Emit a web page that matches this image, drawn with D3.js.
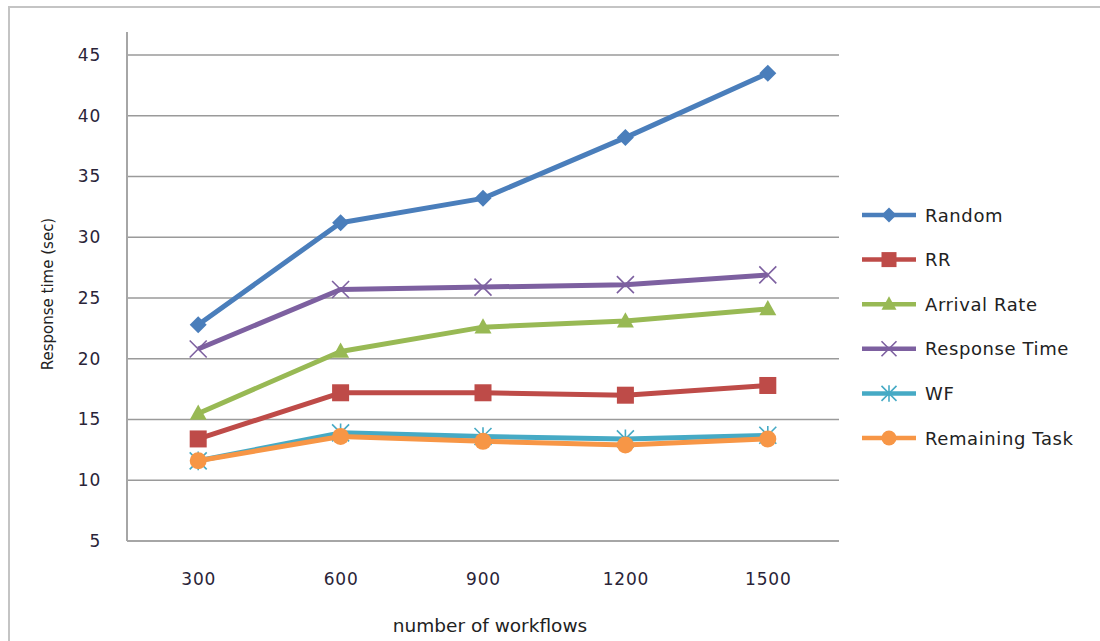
<!DOCTYPE html>
<html>
<head>
<meta charset="utf-8">
<script src="https://cdn.jsdelivr.net/npm/d3@7"></script>
<style>
  html, body { margin: 0; padding: 0; background: #fff; }
  svg { display: block; }
  text { font-family: "DejaVu Sans", sans-serif; }
</style>
</head>
<body>
<svg id="chart" width="1100" height="641"></svg>
<script>
// Workflow counts on the x axis
const categories = ["300", "600", "900", "1200", "1500"];
// Response time (sec) per scheduling policy
const randomValues        = [22.8, 31.2, 33.2, 38.2, 43.5];
const rrValues            = [13.4, 17.2, 17.2, 17.0, 17.8];
const arrivalRateValues   = [15.5, 20.6, 22.6, 23.1, 24.1];
const responseTimeValues  = [20.8, 25.7, 25.9, 26.1, 26.9];
const wfValues            = [11.6, 13.9, 13.6, 13.4, 13.7];
const remainingTaskValues = [11.6, 13.6, 13.2, 12.9, 13.4];
const seriesNames  = ["Random", "RR", "Arrival Rate", "Response Time", "WF", "Remaining Task"];
const yTicks = [5, 10, 15, 20, 25, 30, 35, 40, 45];

const series = [
  { name: seriesNames[0], values: randomValues,        color: "#4a7ebb", marker: "diamond" },
  { name: seriesNames[1], values: rrValues,            color: "#be4b48", marker: "square" },
  { name: seriesNames[2], values: arrivalRateValues,   color: "#98b954", marker: "triangle" },
  { name: seriesNames[3], values: responseTimeValues,  color: "#7d60a0", marker: "cross" },
  { name: seriesNames[4], values: wfValues,            color: "#46aac5", marker: "star" },
  { name: seriesNames[5], values: remainingTaskValues, color: "#f79646", marker: "circle" }
];

const svg = d3.select("#chart");

// outer chart frame
svg.append("rect")
  .attr("x", 9).attr("y", 7).attr("width", 1100).attr("height", 660)
  .attr("fill", "#fff").attr("stroke", "#c4c4c4").attr("stroke-width", 2);

const plot = { left: 127, right: 839, top: 55, bottom: 541 };

const x = d3.scalePoint().domain(categories).range([plot.left, plot.right]).padding(0.5);
const y = d3.scaleLinear().domain([5, 45]).range([plot.bottom, plot.top]);

// horizontal gridlines
svg.append("g")
  .selectAll("line")
  .data(yTicks.filter(t => t > 5))
  .join("line")
  .attr("x1", plot.left).attr("x2", plot.right)
  .attr("y1", d => y(d)).attr("y2", d => y(d))
  .attr("stroke", "#9a9a9a").attr("stroke-width", 1.5);

// y axis
const yAxis = svg.append("g")
  .attr("transform", `translate(${plot.left},0)`)
  .call(d3.axisLeft(y).tickValues(yTicks).tickSize(0).tickPadding(26));
yAxis.select(".domain").remove();
yAxis.selectAll("text")
  .attr("font-size", 17).attr("fill", "#2a2438")
  .attr("letter-spacing", 0.8)
  .attr("font-family", "'DejaVu Sans', sans-serif");
svg.append("line")
  .attr("x1", plot.left).attr("x2", plot.left)
  .attr("y1", 32).attr("y2", plot.bottom)
  .attr("stroke", "#a6a6a6").attr("stroke-width", 2);

// x axis
const xAxis = svg.append("g")
  .attr("transform", `translate(0,${plot.bottom})`)
  .call(d3.axisBottom(x).tickSize(0).tickPadding(32));
xAxis.select(".domain").remove();
xAxis.selectAll("text")
  .attr("font-size", 17).attr("fill", "#2a2438")
  .attr("letter-spacing", 0.8)
  .attr("font-family", "'DejaVu Sans', sans-serif");
svg.append("line")
  .attr("x1", plot.left).attr("x2", plot.right)
  .attr("y1", plot.bottom).attr("y2", plot.bottom)
  .attr("stroke", "#a6a6a6").attr("stroke-width", 2);

// axis titles
svg.append("text")
  .attr("x", 490).attr("y", 632)
  .attr("text-anchor", "middle")
  .attr("font-size", 18.5).attr("fill", "#222")
  .text("number of workflows");
svg.append("text")
  .attr("transform", "translate(53,294) rotate(-90)")
  .attr("text-anchor", "middle")
  .attr("font-size", 15).attr("fill", "#222")
  .text("Response time (sec)");

// marker drawing
function drawMarker(g, type, color, s) {
  if (type === "diamond") {
    g.append("path").attr("d", `M0,${-s}L${s},0L0,${s}L${-s},0Z`).attr("fill", color);
  } else if (type === "square") {
    g.append("rect").attr("x", -s).attr("y", -s)
      .attr("width", s * 2).attr("height", s * 2).attr("fill", color);
  } else if (type === "triangle") {
    g.append("path").attr("d", `M0,${-s * 1.05}L${s},${s * 0.75}L${-s},${s * 0.75}Z`).attr("fill", color);
  } else if (type === "cross") {
    g.append("path").attr("d", `M${-s},${-s}L${s},${s}M${s},${-s}L${-s},${s}`)
      .attr("stroke", color).attr("stroke-width", 1.6).attr("fill", "none");
  } else if (type === "star") {
    g.append("path")
      .attr("d", `M${-s},${-s}L${s},${s}M${s},${-s}L${-s},${s}M0,${-s * 1.1}L0,${s * 1.1}`)
      .attr("stroke", color).attr("stroke-width", 1.6).attr("fill", "none");
  } else if (type === "circle") {
    g.append("circle").attr("r", s).attr("fill", color);
  }
}

const line = d3.line()
  .x((d, i) => x(categories[i]))
  .y(d => y(d));

const seriesG = svg.append("g");
series.forEach(sr => {
  const g = seriesG.append("g");
  g.append("path")
    .attr("d", line(sr.values))
    .attr("fill", "none")
    .attr("stroke", sr.color)
    .attr("stroke-width", 5)
    .attr("stroke-linejoin", "round");
  sr.values.forEach((v, i) => {
    const m = g.append("g").attr("transform", `translate(${x(categories[i])},${y(v)})`);
    drawMarker(m, sr.marker, sr.color, 8.5);
  });
});

// legend
const legend = svg.append("g");
series.forEach((sr, i) => {
  const ly = 215 + i * 44.6;
  const g = legend.append("g").attr("transform", `translate(0,${ly})`);
  g.append("line")
    .attr("x1", 862).attr("x2", 916).attr("y1", 0).attr("y2", 0)
    .attr("stroke", sr.color).attr("stroke-width", 4.5);
  const m = g.append("g").attr("transform", "translate(889,0)");
  drawMarker(m, sr.marker, sr.color, 7.5);
  g.append("text")
    .attr("x", 925).attr("y", 6.5)
    .attr("font-size", 18).attr("fill", "#222")
    .attr("letter-spacing", 0.6)
    .text(sr.name);
});
</script>
</body>
</html>
